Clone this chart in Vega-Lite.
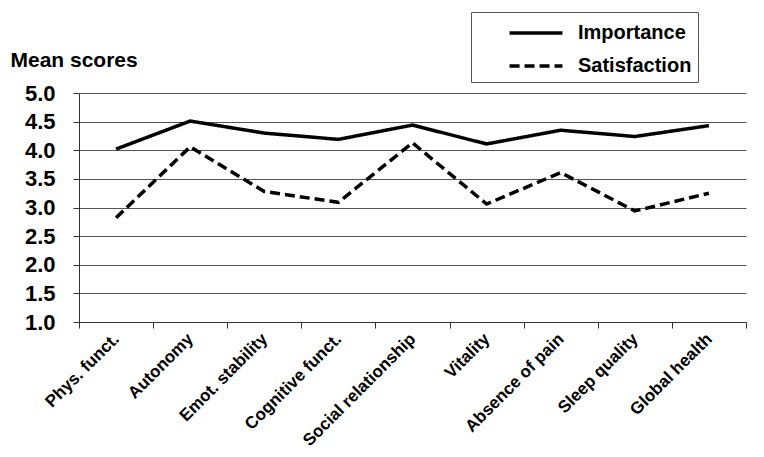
{
  "$schema": "https://vega.github.io/schema/vega-lite/v6.json",
  "width": 667,
  "height": 229,
  "autosize": {"type": "none"},
  "padding": {"left": 79, "top": 93, "right": 18, "bottom": 135},
  "background": "white",
  "config": {
    "view": {"stroke": null},
    "font": "Liberation Sans"
  },
  "data": {
    "values": [
      {"domain": "Phys. funct.", "series": "Importance", "score": 4.02},
      {"domain": "Autonomy", "series": "Importance", "score": 4.51},
      {"domain": "Emot. stability", "series": "Importance", "score": 4.30},
      {"domain": "Cognitive funct.", "series": "Importance", "score": 4.19},
      {"domain": "Social relationship", "series": "Importance", "score": 4.44},
      {"domain": "Vitality", "series": "Importance", "score": 4.11},
      {"domain": "Absence of pain", "series": "Importance", "score": 4.35},
      {"domain": "Sleep quality", "series": "Importance", "score": 4.24},
      {"domain": "Global health", "series": "Importance", "score": 4.43},
      {"domain": "Phys. funct.", "series": "Satisfaction", "score": 2.82},
      {"domain": "Autonomy", "series": "Satisfaction", "score": 4.06},
      {"domain": "Emot. stability", "series": "Satisfaction", "score": 3.28},
      {"domain": "Cognitive funct.", "series": "Satisfaction", "score": 3.09},
      {"domain": "Social relationship", "series": "Satisfaction", "score": 4.13},
      {"domain": "Vitality", "series": "Satisfaction", "score": 3.06},
      {"domain": "Absence of pain", "series": "Satisfaction", "score": 3.61},
      {"domain": "Sleep quality", "series": "Satisfaction", "score": 2.94},
      {"domain": "Global health", "series": "Satisfaction", "score": 3.25}
    ]
  },
  "mark": {"type": "line", "color": "black", "strokeWidth": 3.5},
  "encoding": {
    "x": {
      "field": "domain",
      "type": "nominal",
      "sort": null,
      "scale": {"type": "band", "paddingInner": 0, "paddingOuter": 0},
      "axis": {
        "title": null,
        "labelAngle": -45,
        "labelAlign": "right",
        "labelBaseline": "middle",
        "labelFont": "Liberation Sans",
        "labelFontWeight": "bold",
        "labelFontSize": 17,
        "labelColor": "black",
        "labelPadding": 8,
        "tickBand": "extent",
        "tickColor": "#333",
        "tickSize": 6,
        "domainColor": "#333",
        "domainWidth": 1,
        "grid": false
      }
    },
    "y": {
      "field": "score",
      "type": "quantitative",
      "scale": {"domain": [1, 5], "nice": false, "zero": false},
      "axis": {
        "values": [1, 1.5, 2, 2.5, 3, 3.5, 4, 4.5, 5],
        "format": ".1f",
        "title": "Mean scores",
        "titleAngle": 0,
        "titleAlign": "left",
        "titleBaseline": "alphabetic",
        "titleX": -69,
        "titleY": -27,
        "titleFont": "Liberation Sans",
        "titleFontSize": 21,
        "titleFontWeight": "bold",
        "titleColor": "black",
        "labelFont": "Liberation Sans",
        "labelFontSize": 22,
        "labelFontWeight": "bold",
        "labelColor": "black",
        "labelPadding": 18,
        "tickSize": 6,
        "tickColor": "#333",
        "domainColor": "#333",
        "grid": true,
        "gridColor": "#555",
        "gridWidth": 1,
        "gridOpacity": 1
      }
    },
    "strokeDash": {
      "field": "series",
      "type": "nominal",
      "scale": {"domain": ["Importance", "Satisfaction"], "range": [[1, 0], [10, 5]]},
      "legend": {
        "title": null,
        "orient": "none",
        "legendX": 392,
        "legendY": -81,
        "direction": "vertical",
        "strokeColor": "#555",
        "fillColor": "white",
        "padding": 6,
        "symbolType": "M-2,0H2",
        "symbolSize": 700,
        "symbolStrokeWidth": 3.5,
        "symbolStrokeColor": "black",
        "symbolOffset": 44,
        "labelFont": "Liberation Sans",
        "labelFontSize": 20,
        "labelFontWeight": "bold",
        "labelColor": "black",
        "labelOffset": 27,
        "rowPadding": 8
      }
    }
  }
}
